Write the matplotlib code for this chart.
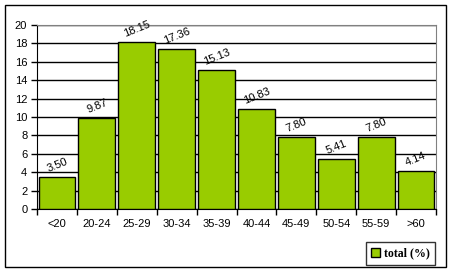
import matplotlib.pyplot as plt
from matplotlib.patches import Rectangle, Patch

categories = ['<20', '20-24', '25-29', '30-34', '35-39', '40-44', '45-49', '50-54', '55-59', '>60']
values = [3.50, 9.87, 18.15, 17.36, 15.13, 10.83, 7.80, 5.41, 7.80, 4.14]
value_labels = ['3.50', '9.87', '18.15', '17.36', '15.13', '10.83', '7.80', '5.41', '7.80', '4.14']

plt.rcParams['font.family'] = ['Liberation Sans', 'DejaVu Sans']
plt.rcParams['font.size'] = 8

fig = plt.figure(figsize=(4.51, 2.72), dpi=100)
ax = fig.add_axes([37 / 451, 63 / 272, 399 / 451, 184 / 272])

# outer chart border
fig.patches.append(Rectangle((5 / 451, 5 / 272), 441 / 451, 262 / 272, transform=fig.transFigure,
                             fill=False, edgecolor='black', linewidth=1))

x = range(len(categories))
ax.bar(x, values, width=0.92, color='#99CC00', edgecolor='black', linewidth=1, zorder=3,
       label='total (%)')

ax.set_xlim(-0.5, len(categories) - 0.5)
ax.set_ylim(0, 20)
ax.set_yticks(range(0, 21, 2))
ax.yaxis.grid(True, color='black', linewidth=1, zorder=0)
ax.set_axisbelow(True)

# category boundary ticks on the x axis
ax.set_xticks([i - 0.5 for i in range(len(categories) + 1)])
ax.set_xticklabels([])
ax.set_xticks(list(x), minor=True)
ax.set_xticklabels(categories, minor=True)
ax.tick_params(axis='x', which='minor', length=0, pad=7)
ax.tick_params(axis='x', which='major', length=4, width=1, direction='out')
ax.tick_params(axis='y', length=4, width=1, direction='out', pad=3)

for s in ['top', 'right']:
    ax.spines[s].set_color('#808080')
for s in ['left', 'bottom']:
    ax.spines[s].set_color('black')

for i, v in enumerate(values):
    ax.text(i, v + 0.35, value_labels[i], ha='center', va='bottom', rotation=22, fontsize=8)

leg = fig.legend(handles=[Patch(facecolor='#99CC00', edgecolor='black', label='total (%)')],
                 loc='lower right', bbox_to_anchor=(435 / 451, 7 / 272), borderaxespad=0,
                 prop={'family': 'Liberation Serif', 'weight': 'bold', 'size': 8.5},
                 frameon=True, fancybox=False, handlelength=0.8, handleheight=0.8,
                 handletextpad=0.3, borderpad=0.45)
leg.get_frame().set_edgecolor('black')
leg.get_frame().set_linewidth(1)

fig.savefig('out.png', dpi=100)
